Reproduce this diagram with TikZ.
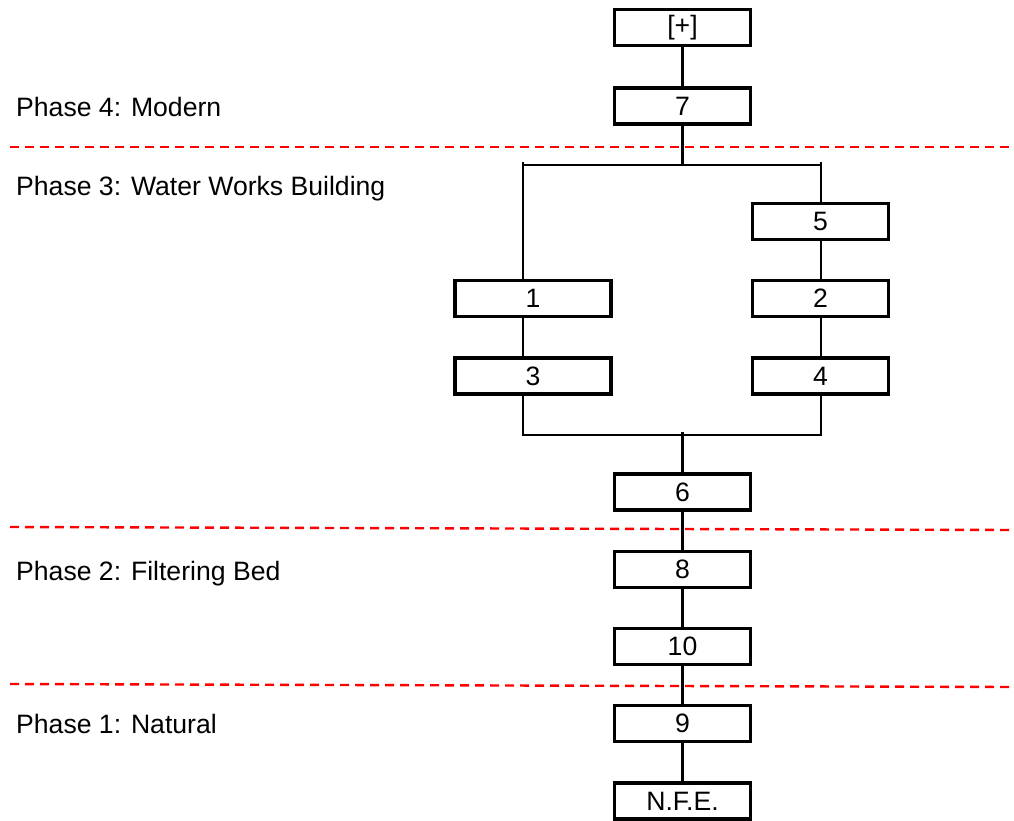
\documentclass[tikz,border=0pt]{standalone}
\usepackage{fontspec}
\setmainfont{Liberation Sans}
\usepackage{tikz}
\usetikzlibrary{positioning,calc}
\definecolor{ink}   {HTML}{000000}
\definecolor{phase} {HTML}{FF0000}
\tikzset{
  every node/.style={font=\fontsize{26.6}{30}\selectfont},
  % --- nodes
  unit/.style  = {draw=ink, fill=white, line width=3.6pt, align=center,
                  minimum width=136pt, minimum height=36pt, inner sep=0pt},
  wide/.style  = {unit, minimum width=156pt},
  lbl/.style   = {anchor=base west, inner sep=0pt, text=ink},
  % --- edges
  e/.style     = {draw=ink, line width=2.6pt},
  sep/.style   = {draw=phase, line width=2.4pt, dash pattern=on 9pt off 6pt},
}
\begin{document}
\begin{tikzpicture}[x=1pt,y=-1pt]
  \useasboundingbox (0,0) rectangle (1014,820);

  % phase boundaries
  \draw[sep] (10,147) -- (1014,147);
  \draw[sep] (10,527) -- (1014,530);
  \draw[sep] (10,684) -- (1014,687);

  \node[lbl] (ph4) at (16,116) {Phase 4: Modern};
  \node[lbl] (ph3) at (16,195) {Phase 3: Water Works Building};
  \node[lbl] (ph2) at (16,580) {Phase 2: Filtering Bed};
  \node[lbl] (ph1) at (16,733) {Phase 1: Natural};

  % units
  \node[unit] (top) at (682.5,27.5) {[+]};
  \node[unit] (u7)  at (682.5,106)  {7};
  \node[unit] (u5)  at (820.5,221.5){5};
  \node[wide] (u1)  at (533,298.5)  {1};
  \node[unit] (u2)  at (820.5,298.5){2};
  \node[wide] (u3)  at (533,376)    {3};
  \node[unit] (u4)  at (820.5,376)  {4};
  \node[unit] (u6)  at (682.5,492)  {6};
  \node[unit] (u8)  at (682.5,569.5){8};
  \node[unit] (u10) at (682.5,646.5){10};
  \node[unit] (u9)  at (682.5,723.5){9};
  \node[unit] (nfe) at (682.5,801)  {N.F.E.};

  \coordinate (splitL) at (523,165);
  \coordinate (splitR) at (821,165);
  \coordinate (tickL)  at (523,162);
  \coordinate (tickR)  at (821,162);
  \coordinate (joinL)  at (523,435);
  \coordinate (joinR)  at (821,435);
  \coordinate (joinM)  at (682.5,432);

  \draw[e] (top.south) -- (u7.north);
  \draw[e] (u7.south) -- (u7.south |- splitL);
  \draw[e] (splitL) -- (splitR);
  \draw[e] (tickL) -- (u1.north -| tickL);
  \draw[e] (tickR) -- (u5.north -| tickR);
  \draw[e] (u5.south -| tickR) -- (u2.north -| tickR);
  \draw[e] (u1.south -| tickL) -- (u3.north -| tickL);
  \draw[e] (u2.south -| tickR) -- (u4.north -| tickR);
  \draw[e] (u3.south -| joinL) -- (joinL) -- (joinR) -- (u4.south -| joinR);
  \draw[e] (joinM) -- (u6.north);
  \draw[e] (u6.south) -- (u8.north);
  \draw[e] (u8.south) -- (u10.north);
  \draw[e] (u10.south) -- (u9.north);
  \draw[e] (u9.south) -- (nfe.north);
\end{tikzpicture}
\end{document}
